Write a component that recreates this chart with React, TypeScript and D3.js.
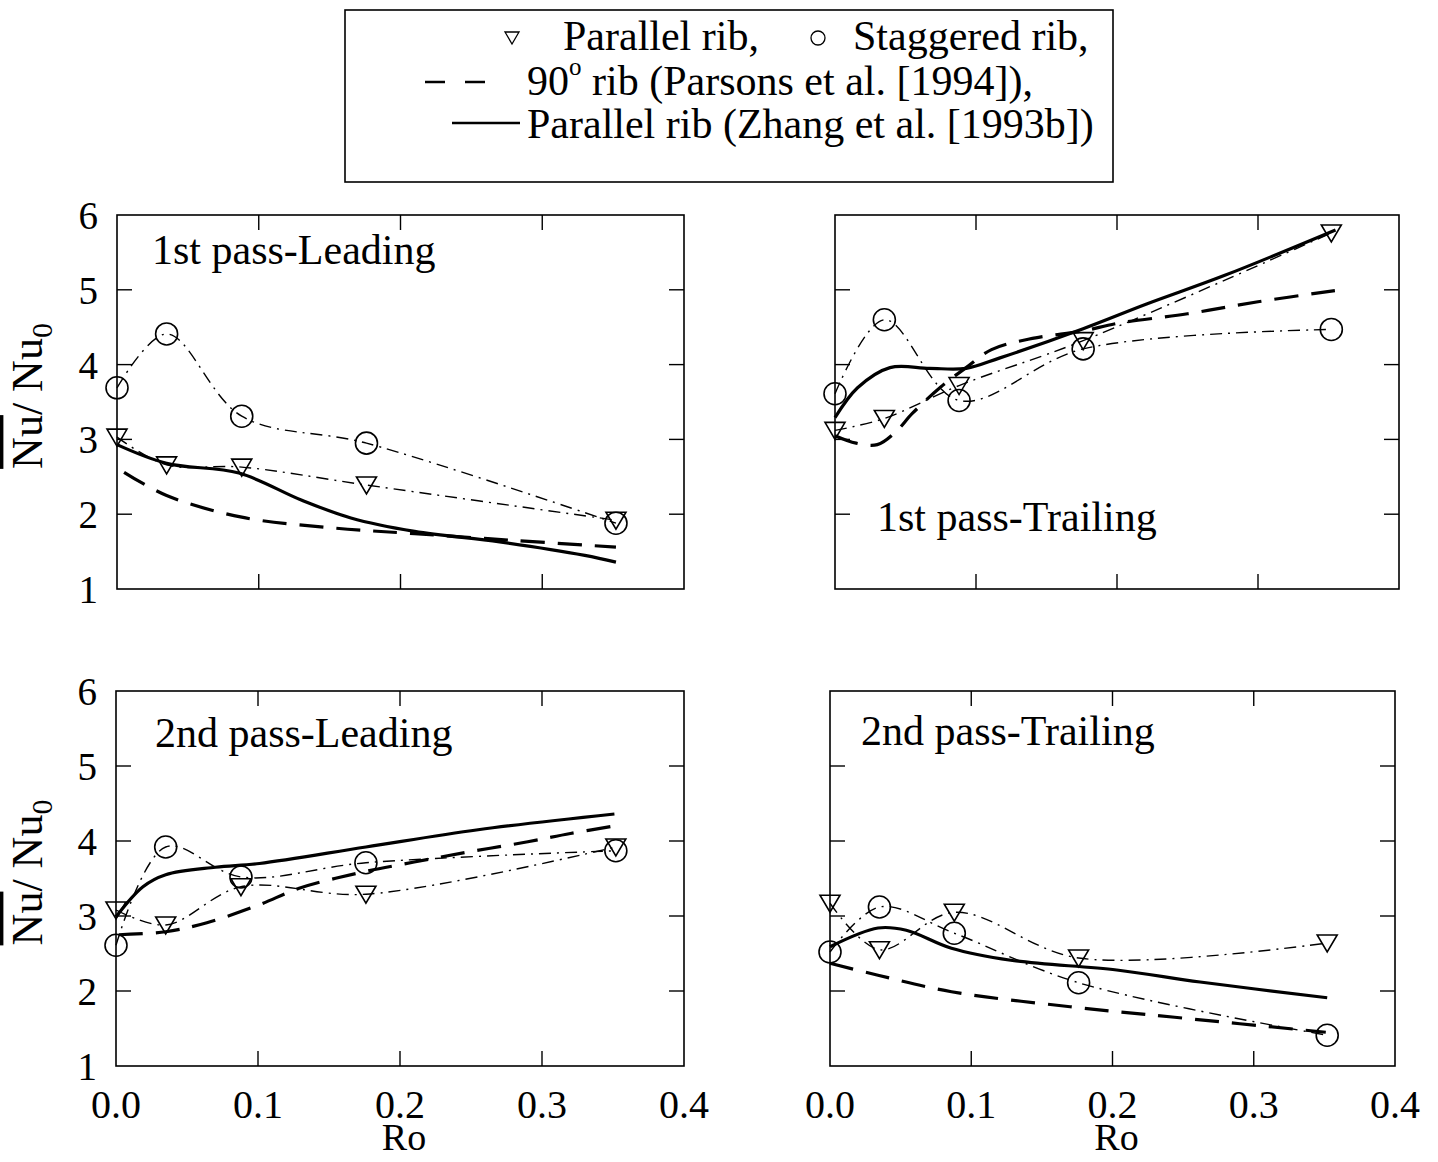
import { useEffect, useRef } from 'react';
import * as d3 from 'd3';

// measured Ro for the rib data
const ro = [0, 0.035, 0.088, 0.176, 0.352];

// 1st pass - leading
const parallel1L = [3.03, 2.66, 2.63, 2.39, 1.92];
const staggered1L = [3.69, 4.41, 3.31, 2.95, 1.88];
const parsonsRo1L = [0.005, 0.035, 0.088, 0.15, 0.21, 0.28, 0.352];
const parsons1L = [2.56, 2.25, 1.96, 1.82, 1.74, 1.65, 1.56];
const zhangRo1L = [0, 0.035, 0.086, 0.13, 0.165, 0.21, 0.27, 0.33, 0.352];
const zhang1L = [2.93, 2.68, 2.55, 2.19, 1.95, 1.77, 1.63, 1.45, 1.36];

// 1st pass - trailing
const parallel1T = [3.12, 3.28, 3.72, 4.32, 5.76];
const staggered1T = [3.61, 4.6, 3.52, 4.21, 4.47];
const parsonsRo1T = [0, 0.015, 0.03, 0.043, 0.055, 0.075, 0.093, 0.111, 0.14, 0.176, 0.2, 0.25, 0.3, 0.355];
const parsons1T = [3.05, 2.95, 2.93, 3.1, 3.35, 3.7, 3.96, 4.2, 4.35, 4.45, 4.55, 4.68, 4.84, 4.99];
const zhangRo1T = [0, 0.016, 0.039, 0.067, 0.093, 0.117, 0.176, 0.221, 0.276, 0.355];
const zhang1T = [3.29, 3.69, 3.96, 3.95, 3.95, 4.09, 4.48, 4.81, 5.19, 5.8];

// 2nd pass - leading
const parallel2L = [3.08, 2.88, 3.39, 3.29, 3.92];
const staggered2L = [2.61, 3.92, 3.52, 3.71, 3.87];
const parsonsRo2L = [0.002, 0.035, 0.064, 0.101, 0.129, 0.17, 0.21, 0.25, 0.29, 0.32, 0.351];
const parsons2L = [2.75, 2.79, 2.91, 3.15, 3.37, 3.57, 3.72, 3.86, 3.99, 4.1, 4.2];
const zhangRo2L = [0, 0.019, 0.035, 0.07, 0.101, 0.176, 0.255, 0.351];
const zhang2L = [2.99, 3.39, 3.55, 3.65, 3.7, 3.92, 4.15, 4.36];

// 2nd pass - trailing
const parallel2T = [3.17, 2.55, 3.05, 2.44, 2.64];
const staggered2T = [2.52, 3.12, 2.77, 2.11, 1.41];
const parsonsRo2T = [0, 0.034, 0.086, 0.17, 0.244, 0.351];
const parsons2T = [2.37, 2.21, 1.99, 1.79, 1.65, 1.45];
const zhangRo2T = [0, 0.034, 0.054, 0.086, 0.128, 0.203, 0.262, 0.352];
const zhang2T = [2.59, 2.84, 2.81, 2.57, 2.41, 2.28, 2.12, 1.91];

const xTicks = [0, 0.1, 0.2, 0.3, 0.4];
const yTicks = [1, 2, 3, 4, 5, 6];
const xTickLabels = ['0.0', '0.1', '0.2', '0.3', '0.4'];

const FONT = '"Liberation Serif", "DejaVu Serif", serif';

interface Panel {
  title: string;
  left: number;
  top: number;
  w: number;
  h: number;
  tx: number;
  ty: number;
  parallel: number[];
  staggered: number[];
  parsonsRo: number[];
  parsons: number[];
  zhangRo: number[];
  zhang: number[];
  yLabels: boolean;
  xLabels: boolean;
}

const panels: Panel[] = [
  { title: '1st pass-Leading', left: 117, top: 215, w: 567, h: 374, tx: 35, ty: 49,
    parallel: parallel1L, staggered: staggered1L, parsonsRo: parsonsRo1L, parsons: parsons1L,
    zhangRo: zhangRo1L, zhang: zhang1L, yLabels: true, xLabels: false },
  { title: '1st pass-Trailing', left: 835, top: 215, w: 564, h: 374, tx: 42, ty: 316,
    parallel: parallel1T, staggered: staggered1T, parsonsRo: parsonsRo1T, parsons: parsons1T,
    zhangRo: zhangRo1T, zhang: zhang1T, yLabels: false, xLabels: false },
  { title: '2nd pass-Leading', left: 116, top: 691, w: 568, h: 375, tx: 39, ty: 56,
    parallel: parallel2L, staggered: staggered2L, parsonsRo: parsonsRo2L, parsons: parsons2L,
    zhangRo: zhangRo2L, zhang: zhang2L, yLabels: true, xLabels: true },
  { title: '2nd pass-Trailing', left: 830, top: 691, w: 565, h: 375, tx: 31, ty: 54,
    parallel: parallel2T, staggered: staggered2T, parsonsRo: parsonsRo2T, parsons: parsons2T,
    zhangRo: zhangRo2T, zhang: zhang2T, yLabels: false, xLabels: true },
];

const triPath = 'M-10,-8L10,-8L0,9Z';

export default function App() {
  const ref = useRef<SVGSVGElement | null>(null);

  useEffect(() => {
    const svg = d3.select(ref.current);
    svg.selectAll('*').remove();

    // legend
    const lg = svg.append('g').attr('font-family', FONT).attr('font-size', 42);
    lg.append('rect')
      .attr('x', 345).attr('y', 10).attr('width', 768).attr('height', 172)
      .attr('fill', 'none').attr('stroke', '#000').attr('stroke-width', 1.6);
    lg.append('path').attr('d', 'M-7,-6L7,-6L0,6Z')
      .attr('transform', 'translate(512,38)')
      .attr('fill', 'none').attr('stroke', '#000').attr('stroke-width', 1.3);
    lg.append('text').attr('x', 563).attr('y', 50).text('Parallel rib,');
    lg.append('circle').attr('cx', 818).attr('cy', 38).attr('r', 7)
      .attr('fill', 'none').attr('stroke', '#000').attr('stroke-width', 1.3);
    lg.append('text').attr('x', 853).attr('y', 50).text('Staggered rib,');
    lg.append('line').attr('x1', 425).attr('x2', 485).attr('y1', 82).attr('y2', 82)
      .attr('stroke', '#000').attr('stroke-width', 2.5).attr('stroke-dasharray', '20,20');
    const t2 = lg.append('text').attr('x', 527).attr('y', 95);
    t2.append('tspan').text('90');
    t2.append('tspan').attr('font-size', 25).attr('dy', -20).text('o');
    t2.append('tspan').attr('dy', 20).text(' rib (Parsons et al. [1994]),');
    lg.append('line').attr('x1', 452).attr('x2', 520).attr('y1', 123).attr('y2', 123)
      .attr('stroke', '#000').attr('stroke-width', 2.5);
    lg.append('text').attr('x', 527).attr('y', 138).text('Parallel rib (Zhang et al. [1993b])');

    panels.forEach(p => {
      const x = d3.scaleLinear().domain([0, 0.4]).range([0, p.w]);
      const y = d3.scaleLinear().domain([1, 6]).range([p.h, 0]);
      const g = svg.append('g').attr('transform', `translate(${p.left},${p.top})`);

      // frame + inward ticks on all sides
      g.append('rect').attr('width', p.w).attr('height', p.h)
        .attr('fill', 'none').attr('stroke', '#000').attr('stroke-width', 1.6);
      const tl = 15;
      xTicks.slice(1, 4).forEach(t => {
        g.append('line').attr('x1', x(t)).attr('x2', x(t)).attr('y1', 0).attr('y2', tl)
          .attr('stroke', '#000').attr('stroke-width', 1.4);
        g.append('line').attr('x1', x(t)).attr('x2', x(t)).attr('y1', p.h).attr('y2', p.h - tl)
          .attr('stroke', '#000').attr('stroke-width', 1.4);
      });
      yTicks.slice(1, 5).forEach(t => {
        g.append('line').attr('x1', 0).attr('x2', tl).attr('y1', y(t)).attr('y2', y(t))
          .attr('stroke', '#000').attr('stroke-width', 1.4);
        g.append('line').attr('x1', p.w).attr('x2', p.w - tl).attr('y1', y(t)).attr('y2', y(t))
          .attr('stroke', '#000').attr('stroke-width', 1.4);
      });

      if (p.yLabels) {
        yTicks.forEach(t => {
          g.append('text').attr('x', -19).attr('y', y(t)).attr('dy', '0.36em')
            .attr('text-anchor', 'end').attr('font-family', FONT).attr('font-size', 39)
            .text(t);
        });
        const yl = g.append('text')
          .attr('transform', `translate(${42 - p.left},${p.h / 2 - 6}) rotate(-90)`)
          .attr('text-anchor', 'middle').attr('font-family', FONT).attr('font-size', 44);
        yl.append('tspan').style('text-decoration', 'overline').text('Nu');
        yl.append('tspan').text('/ Nu');
        yl.append('tspan').attr('font-size', 30).attr('dy', 10).text('0');
      }
      if (p.xLabels) {
        xTicks.forEach((t, i) => {
          g.append('text').attr('x', x(t)).attr('y', p.h + 52)
            .attr('text-anchor', 'middle').attr('font-family', FONT).attr('font-size', 40)
            .text(xTickLabels[i]);
        });
        g.append('text').attr('x', p.w / 2 + 4).attr('y', p.h + 84)
          .attr('text-anchor', 'middle').attr('font-family', FONT).attr('font-size', 38)
          .text('Ro');
      }

      g.append('text').attr('x', p.tx).attr('y', p.ty)
        .attr('font-family', FONT).attr('font-size', 42).text(p.title);

      const smooth = d3.line<[number, number]>()
        .x(d => x(d[0])).y(d => y(d[1]))
        .curve(d3.curveCatmullRom.alpha(0.5));

      const zPts = p.zhangRo.map((r, i) => [r, p.zhang[i]] as [number, number]);
      const dPts = p.parsonsRo.map((r, i) => [r, p.parsons[i]] as [number, number]);
      const parPts = ro.map((r, i) => [r, p.parallel[i]] as [number, number]);
      const stgPts = ro.map((r, i) => [r, p.staggered[i]] as [number, number]);

      g.append('path').attr('d', smooth(dPts)).attr('fill', 'none')
        .attr('stroke', '#000').attr('stroke-width', 3.2).attr('stroke-dasharray', '24,13');
      g.append('path').attr('d', smooth(zPts)).attr('fill', 'none')
        .attr('stroke', '#000').attr('stroke-width', 3.2);
      [parPts, stgPts].forEach(pts => {
        g.append('path').attr('d', smooth(pts)).attr('fill', 'none')
          .attr('stroke', '#000').attr('stroke-width', 1.4).attr('stroke-dasharray', '12,6,2,6');
      });

      g.selectAll('.tri').data(parPts).enter().append('path')
        .attr('d', triPath)
        .attr('transform', d => `translate(${x(d[0])},${y(d[1])})`)
        .attr('fill', 'none').attr('stroke', '#000').attr('stroke-width', 1.6);
      g.selectAll('.circ').data(stgPts).enter().append('circle')
        .attr('cx', d => x(d[0])).attr('cy', d => y(d[1])).attr('r', 11)
        .attr('fill', 'none').attr('stroke', '#000').attr('stroke-width', 1.6);
    });
  }, []);

  return (
    <svg
      ref={ref}
      width={1438}
      height={1162}
      style={{ position: 'absolute', left: 0, top: 0, background: '#fff' }}
    />
  );
}
